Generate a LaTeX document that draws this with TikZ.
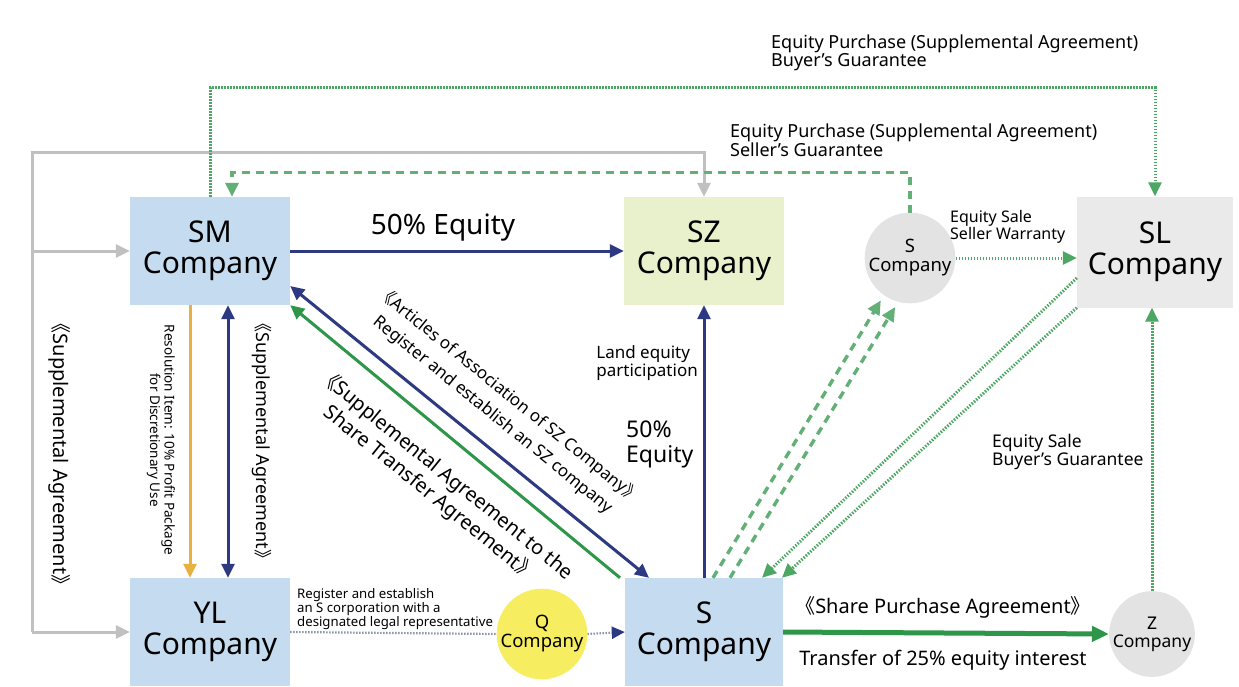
\documentclass[tikz,border=0pt]{standalone}
\usepackage{fontspec}
\setmainfont{Noto Sans}
\newfontfamily\cjk{Noto Sans CJK SC}
\usetikzlibrary{arrows.meta,calc}
\newcommand\lbk{{\cjk 《}}
\newcommand\rbk{{\cjk 》}}
\definecolor{boxblue}{RGB}{197,220,240}
\definecolor{szgreen}{RGB}{233,241,204}
\definecolor{slgray}{RGB}{234,234,234}
\definecolor{circgray}{RGB}{227,227,227}
\definecolor{qyellow}{RGB}{246,238,96}
\definecolor{dblue}{RGB}{45,58,130}
\definecolor{agreen}{RGB}{46,150,72}
\definecolor{aorange}{RGB}{232,176,64}
\definecolor{lgray}{RGB}{192,192,192}
\definecolor{dotgray}{RGB}{140,150,175}
\begin{document}
\begin{tikzpicture}[x=1pt,y=-1pt,
  >={Triangle[length=14pt,width=13pt]},
  box/.style={rectangle, minimum width=160pt, minimum height=108pt, inner sep=0pt, align=center, font=\fontsize{30}{31}\selectfont},
  circ/.style={circle, minimum size=76pt, inner sep=0pt, align=center, font=\fontsize{18.5}{19}\selectfont, fill=circgray},
  lbl/.style={inner sep=0pt, align=left},
  blu/.style={draw=dblue, line width=3pt},
  grn/.style={draw=agreen, line width=3pt},
  gry/.style={draw=lgray, line width=3pt},
  org/.style={draw=aorange, line width=3pt},
  gdot/.style={draw=agreen!85, line width=3pt, dash pattern=on 1.5pt off 1.5pt},
  gdash/.style={draw=agreen!75, line width=3.4pt, dash pattern=on 8pt off 6pt},
  qdot/.style={draw=dotgray, line width=2.2pt, dash pattern=on 1.5pt off 1.5pt},
]
\useasboundingbox (0,0) rectangle (1239,686);
\fill[white] (0,0) rectangle (1239,686);

% nodes
\node[box, fill=boxblue] (sm) at (210,251) {SM\\Company};
\node[box, fill=szgreen] (sz) at (704,251) {SZ\\Company};
\node[box, fill=slgray, minimum width=156pt, minimum height=111pt] (sl) at (1155,252) {SL\\Company};
\node[box, fill=boxblue] (yl) at (210,632) {YL\\Company};
\node[box, fill=boxblue, minimum width=158pt] (sb) at (704,632) {S\\Company};
\node[circ, minimum size=80pt] (sc) at (910,258) {S\\Company};
\node[circ, fill=qyellow, minimum size=80pt] (q) at (542,634) {Q\\Company};
\node[circ, minimum size=74pt, font=\fontsize{17.5}{18}\selectfont] (z) at (1152,634) {Z\\Company};

% connectors
\draw[blu,->] (sm.east) -- (sz.west);
\draw[blu,->] (sb.north) -- (sz.south);
\draw[blu,<->] ([yshift=-35pt]sm.east) -- ([xshift=-55pt]sb.north);
\draw[grn,->] ([xshift=-84pt]sb.north) -- (sm.south east);
\draw[org,->] ([xshift=-20pt]sm.south) -- ([xshift=-20pt]yl.north);
\draw[blu,<->] ([xshift=18pt]sm.south) -- ([xshift=18pt]yl.north);

\coordinate (gt) at (32,152);
\coordinate (gb) at (32,632);
\draw[gry,->] (gb) -- (gt) -| (sz.north);
\draw[gry,->] (gt |- sm.west) -- (sm.west);
\draw[gry,->] (gb) -- (yl.west);

\draw[gdot,->] (sm.north) -- ++(0,-109) -| (sl.north);
\draw[gdash,->] (sc.north) -- ++(0,-40) -| ([xshift=22pt]sm.north);
\draw[gdot,->] (sc.east) -- (sc.east -| sl.west);
\draw[gdash,->,shorten >=6pt] ([xshift=9pt]sb.north) -- (sc.235);
\draw[gdash,->,shorten >=6pt] ([xshift=26pt]sb.north) -- (sc.255);
\draw[gdot,->] ([yshift=-26pt]sl.west) -- ([xshift=58pt]sb.north);
\draw[gdot,->] (sl.south west) -- ([xshift=78pt]sb.north);
\draw[gdot,->] (z.north) -- (z.north |- sl.south);
\draw[grn, line width=5pt, -{Triangle[length=17pt,width=15pt]}] (sb.east) -- (z.west);
\draw[qdot] (yl.east) -- (q.west);
\draw[qdot, -{Triangle[length=13pt,width=12pt,color=dblue]}] (q.east) -- (sb.west);

% labels
\node[font=\fontsize{28}{30}\selectfont] (l1) at (443,228) {50\% Equity};
\node[lbl, anchor=east, font=\fontsize{17}{18.5}\selectfont] (l2) at (698,363) {Land equity\\participation};
\node[lbl, anchor=west, font=\fontsize{23}{25}\selectfont] (l3) at (626,444) {50\%\\Equity};
\node[align=center, rotate=-39, font=\fontsize{17}{25}\selectfont] (l4) at (501,405) {\lbk Articles of Association of SZ Company\rbk\\Register and establish an SZ company};
\node[align=center, rotate=-39, font=\fontsize{20}{24.5}\selectfont] (l5) at (438,484) {\lbk Supplemental Agreement to the\\Share Transfer Agreement\rbk};
\node[align=center, rotate=-90, font=\fontsize{13.5}{13.5}\selectfont] (l6) at (161,440) {Resolution Item: 10\% Profit Package\\for Discretionary Use};
\node[rotate=-90, font=\fontsize{18}{19}\selectfont] (l7) at (262,441) {\lbk Supplemental Agreement\rbk};
\node[rotate=-90, font=\fontsize{20}{21}\selectfont] (l8) at (60,454) {\lbk Supplemental Agreement\rbk};
\node[lbl, anchor=west, font=\fontsize{18}{18.5}\selectfont] (l9) at (771,53) {Equity Purchase (Supplemental Agreement)\\Buyer's Guarantee};
\node[lbl, anchor=west, font=\fontsize{18}{18.5}\selectfont] (l10) at (730,140) {Equity Purchase (Supplemental Agreement)\\Seller's Guarantee};
\node[lbl, anchor=west, font=\fontsize{16}{17}\selectfont] (l11) at (950,227) {Equity Sale\\Seller Warranty};
\node[lbl, anchor=west, font=\fontsize{17.5}{18.5}\selectfont] (l12) at (992,452) {Equity Sale\\Buyer's Guarantee};
\node[font=\fontsize{20}{21}\selectfont] (l13) at (943,607) {\lbk Share Purchase Agreement\rbk};
\node[font=\fontsize{20}{21}\selectfont] (l14) at (943,660) {Transfer of 25\% equity interest};
\node[lbl, anchor=west, font=\fontsize{13.2}{13}\selectfont] (l15) at (297,609) {Register and establish\\an S corporation with a\\designated legal representative};
\end{tikzpicture}
\end{document}
